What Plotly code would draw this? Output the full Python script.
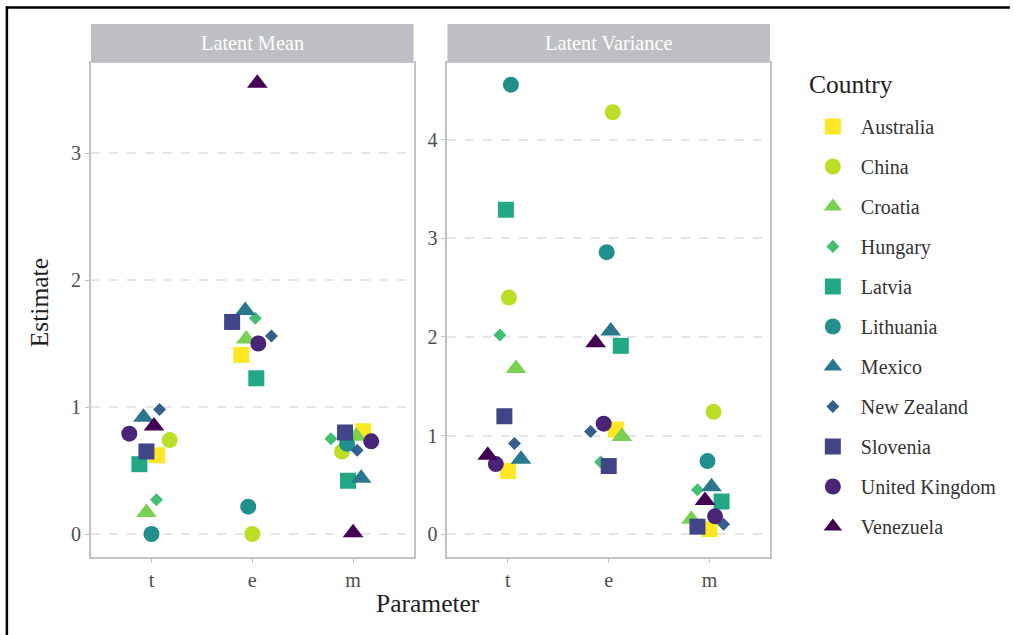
import plotly.graph_objects as go

countries = ["Australia", "China", "Croatia", "Hungary", "Latvia", "Lithuania",
             "Mexico", "New Zealand", "Slovenia", "United Kingdom", "Venezuela"]
colors = ["#FDE725", "#BBDF27", "#7AD151", "#43BF71", "#22A884", "#21908C",
          "#2A788E", "#35608D", "#414487", "#482576", "#440154"]
symbols = ["square", "circle", "triangle-up", "diamond"] * 3
sizes = {"square": 16, "circle": 16, "triangle-up": 18, "diamond": 10}

params = ["t", "e", "m"]

# Latent Mean estimates per country: [t, e, m]
mean_vals = {
    "Australia":      [0.62, 1.41, 0.81],
    "China":          [0.74, 0.00, 0.65],
    "Croatia":        [0.17, 1.535, 0.77],
    "Hungary":        [0.27, 1.70, 0.75],
    "Latvia":         [0.55, 1.226, 0.42],
    "Lithuania":      [0.00, 0.215, 0.71],
    "Mexico":         [0.92, 1.76, 0.44],
    "New Zealand":    [0.98, 1.56, 0.66],
    "Slovenia":       [0.65, 1.67, 0.80],
    "United Kingdom": [0.79, 1.50, 0.73],
    "Venezuela":      [0.85, 3.55, 0.01],
}
# horizontal jitter (category units)
mean_jit = {
    "Australia":      [0.055, -0.11, 0.10],
    "China":          [0.18, 0.00, -0.11],
    "Croatia":        [-0.05, -0.06, 0.03],
    "Hungary":        [0.05, 0.03, -0.22],
    "Latvia":         [-0.12, 0.04, -0.05],
    "Lithuania":      [0.00, -0.04, -0.06],
    "Mexico":         [-0.08, -0.07, 0.08],
    "New Zealand":    [0.08, 0.19, 0.04],
    "Slovenia":       [-0.05, -0.20, -0.08],
    "United Kingdom": [-0.22, 0.06, 0.18],
    "Venezuela":      [0.025, 0.05, 0.00],
}

# Latent Variance estimates per country: [t, e, m]
var_vals = {
    "Australia":      [0.64, 1.06, 0.05],
    "China":          [2.40, 4.28, 1.24],
    "Croatia":        [1.68, 0.99, 0.15],
    "Hungary":        [2.02, 0.73, 0.45],
    "Latvia":         [3.29, 1.91, 0.33],
    "Lithuania":      [4.56, 2.86, 0.74],
    "Mexico":         [0.76, 2.06, 0.48],
    "New Zealand":    [0.92, 1.04, 0.10],
    "Slovenia":       [1.195, 0.69, 0.075],
    "United Kingdom": [0.71, 1.12, 0.18],
    "Venezuela":      [0.80, 1.94, 0.34],
}
var_jit = {
    "Australia":      [0.00, 0.07, 0.00],
    "China":          [0.01, 0.04, 0.04],
    "Croatia":        [0.08, 0.13, -0.18],
    "Hungary":        [-0.08, -0.08, -0.12],
    "Latvia":         [-0.02, 0.12, 0.12],
    "Lithuania":      [0.03, -0.02, -0.02],
    "Mexico":         [0.13, 0.02, 0.02],
    "New Zealand":    [0.065, -0.18, 0.14],
    "Slovenia":       [-0.035, 0.00, -0.12],
    "United Kingdom": [-0.12, -0.05, 0.055],
    "Venezuela":      [-0.20, -0.13, -0.045],
}

fig = go.Figure()

for i, c in enumerate(countries):
    sym = symbols[i]
    mk = dict(color=colors[i], symbol=sym, size=sizes[sym], line=dict(width=0))
    fig.add_trace(go.Scatter(
        x=[k + 1 + j for k, j in enumerate(mean_jit[c])], y=mean_vals[c],
        mode="markers", marker=mk, name=c, legendgroup=c, showlegend=True,
        xaxis="x", yaxis="y", text=params, hovertemplate="%{text}: %{y}<extra>" + c + "</extra>"))
    fig.add_trace(go.Scatter(
        x=[k + 1 + j for k, j in enumerate(var_jit[c])], y=var_vals[c],
        mode="markers", marker=mk, name=c, legendgroup=c, showlegend=False,
        xaxis="x2", yaxis="y2", text=params, hovertemplate="%{text}: %{y}<extra>" + c + "</extra>"))

font_family = "Liberation Serif, Times New Roman, serif"
border = "#C3C3C7"
grid = "#E6E6E6"

xax = dict(range=[0.4, 3.6], tickvals=[1, 2, 3], ticktext=params, showgrid=False,
           zeroline=False, showline=True, linecolor=border, linewidth=2, mirror=True,
           ticks="outside", ticklen=4, tickcolor=border, tickwidth=1,
           tickfont=dict(size=20, color="#4D4D4D", family=font_family))
yax = dict(showgrid=True, gridcolor=grid, griddash="dash", gridwidth=2,
           zeroline=False, showline=True, linecolor=border, linewidth=2, mirror=True,
           ticks="outside", ticklen=4, tickcolor=border, tickwidth=1,
           tickfont=dict(size=20, color="#4D4D4D", family=font_family))

W, H = 1014, 635
L, T = 91, 63
pw, ph = 682, 494
R, B = W - L - pw, H - T - ph


def px_x(p):
    return (p - L) / pw


def px_y(p):
    return (T + ph - p) / ph


fig.update_layout(
    width=W, height=H,
    margin=dict(l=L, r=R, t=T, b=B),
    paper_bgcolor="white", plot_bgcolor="white",
    font=dict(family=font_family, color="#333333"),
    xaxis=dict(domain=[0, 324 / pw], anchor="y", **xax),
    yaxis=dict(domain=[0, 1], anchor="x", range=[-0.181, 3.709],
               tickvals=[0, 1, 2, 3], **yax),
    xaxis2=dict(domain=[358 / pw, 1], anchor="y2", **xax),
    yaxis2=dict(domain=[0, 1], anchor="x2", range=[-0.233, 4.78],
                tickvals=[0, 1, 2, 3, 4], **yax),
    legend=dict(
        font=dict(size=20, color="#333333", family=font_family),
        x=px_x(808), xanchor="left", y=px_y(107), yanchor="top",
        tracegroupgap=11, itemwidth=46, bgcolor="rgba(0,0,0,0)",
    ),
    showlegend=True,
)

# facet strips
strip_h = 39 / ph
for xref, label in [("x domain", "Latent Mean"), ("x2 domain", "Latent Variance")]:
    yref = "y domain" if xref == "x domain" else "y2 domain"
    fig.add_shape(type="rect", xref=xref, yref=yref, x0=0, x1=1, y0=1, y1=1 + strip_h,
                  fillcolor="#BEBFC3", line=dict(width=0), layer="below")
    fig.add_annotation(xref=xref, yref=yref, x=0.5, y=1 + strip_h / 2, text=label,
                       showarrow=False, font=dict(size=20.3, color="white", family=font_family),
                       xanchor="center", yanchor="middle")

# legend title
fig.add_annotation(xref="paper", yref="paper", x=px_x(810), y=px_y(84),
                   text="Country", showarrow=False, xanchor="left", yanchor="middle",
                   font=dict(size=25.5, color="#222222", family=font_family))

# axis titles
fig.add_annotation(xref="paper", yref="paper", x=px_x(429), y=px_y(603),
                   text="Parameter", showarrow=False, xanchor="center", yanchor="middle",
                   font=dict(size=25.5, color="#222222", family=font_family))
fig.add_annotation(xref="paper", yref="paper", x=px_x(39), y=px_y(303),
                   text="Estimate", showarrow=False, textangle=-90, xanchor="center", yanchor="middle",
                   font=dict(size=25.5, color="#222222", family=font_family))

# outer frame: top and left edges (the others fall outside the picture)
fig.add_shape(type="line", xref="paper", yref="paper",
              x0=px_x(5.5), x1=px_x(1014), y0=px_y(7.5), y1=px_y(7.5),
              line=dict(color="black", width=2.5))
fig.add_shape(type="line", xref="paper", yref="paper",
              x0=px_x(6.5), x1=px_x(6.5), y0=px_y(6.5), y1=px_y(635),
              line=dict(color="black", width=2.5))

fig.write_html(
    "out.html", config={"displayModeBar": False},
    post_script=("document.body.style.margin='0px';"
                 "document.body.style.overflow='hidden';"
                 "document.documentElement.style.overflow='hidden';"))
